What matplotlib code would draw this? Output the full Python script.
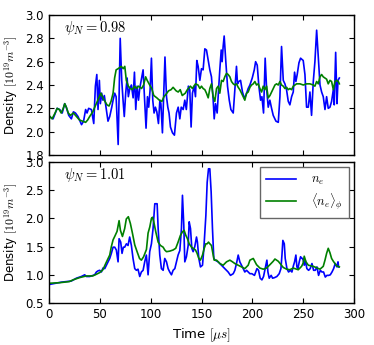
import numpy as np
import matplotlib
matplotlib.use("Agg")
import matplotlib.pyplot as plt

# Density time traces
# top panel: psi_N = 0.98
t_top_ne = [0, 4, 8, 10.5, 13, 15.4, 17, 19.4, 22, 24, 26, 28.5, 32, 34, 36, 37.4, 39, 41.7, 44, 45.6,
            47, 48.2, 49.5, 50.5, 51.8, 53, 54.4, 56.4, 58, 59.7, 61.7, 63, 64.6, 66, 68, 70, 71.5, 72.8,
            74, 75.4, 76.8, 78, 79.4, 81, 82.7, 84, 85.3, 86.6, 88, 89.2, 91, 92.5, 94, 95.4, 96.8, 98,
            99.4, 100.7, 102, 103.3, 104.6, 106, 107.6, 109, 110, 111.5, 112.8, 114, 115.5, 116.8, 118,
            119.4, 121.4, 123.3, 125.3, 127, 128.6, 130, 131.9, 133.5, 135, 137, 138.4, 139.7, 141, 142.7,
            144, 145.3, 146.6, 148.3, 149.9, 151.5, 153.2, 154.8, 156.5, 158.1, 159.7, 161.4, 162.4,
            163.7, 165.3, 166.3, 167.9, 169.3, 170.2, 171.2, 172.2, 173.9, 175.5, 177.2, 178.8, 181.1,
            182.7, 184.3, 185.3, 186.6, 188.3, 190.2, 191.9, 193.5, 195.8, 197.5, 199.8, 201.8, 203.1,
            204.7, 206.3, 208, 209.3, 210.9, 212.5, 213.9, 215.5, 217.1, 218.8, 220.4, 223.1, 225.4,
            227, 228.6, 230.3, 231.9, 233.5, 235.2, 236.8, 238.5, 240.1, 241.4, 242.7, 244, 245.7,
            247.3, 249.9, 251.6, 253.2, 254.9, 256.5, 258.1, 259.8, 261.4, 263.1, 264.7, 266.4, 268,
            269.6, 271.3, 272.9, 274.5, 276.2, 277.8, 279.5, 280.4, 281.8, 283.1, 284.1, 285.4]
ne_top = [2.13, 2.11, 2.20, 2.19, 2.16, 2.24, 2.21, 2.14, 2.11, 2.17, 2.16, 2.13, 2.06, 2.09, 2.19, 2.16,
          2.20, 2.19, 2.07, 2.39, 2.49, 2.19, 2.44, 2.24, 2.33, 2.27, 2.31, 2.19, 2.09, 2.13, 2.21, 2.27,
          2.33, 2.30, 1.89, 2.80, 2.44, 2.27, 2.13, 2.33, 2.46, 2.30, 2.37, 2.40, 2.29, 2.51, 2.19, 2.39,
          2.27, 2.37, 2.46, 2.53, 2.27, 2.03, 2.30, 2.21, 2.36, 2.63, 2.27, 2.16, 2.21, 2.17, 2.07, 2.27,
          2.24, 1.99, 2.33, 2.64, 2.30, 2.21, 2.16, 2.04, 1.99, 1.97, 2.16, 2.21, 2.11, 2.21, 2.19, 2.27,
          2.19, 2.39, 2.36, 2.04, 2.33, 2.39, 2.30, 2.61, 2.56, 2.44, 2.54, 2.53, 2.71, 2.70, 2.61, 2.53,
          2.47, 2.27, 2.11, 2.24, 2.16, 2.30, 2.53, 2.70, 2.60, 2.73, 2.82, 2.59, 2.39, 2.27, 2.19, 2.16,
          2.36, 2.56, 2.41, 2.43, 2.44, 2.34, 2.29, 2.31, 2.37, 2.40, 2.46, 2.53, 2.60, 2.57, 2.39, 2.27,
          2.30, 2.16, 2.63, 2.37, 2.21, 2.27, 2.20, 2.14, 2.09, 2.08, 2.30, 2.73, 2.44, 2.41, 2.36, 2.26,
          2.23, 2.30, 2.34, 2.51, 2.43, 2.49, 2.59, 2.63, 2.61, 2.49, 2.21, 2.21, 2.34, 2.14, 2.43, 2.60,
          2.87, 2.64, 2.40, 2.34, 2.30, 2.19, 2.30, 2.20, 2.21, 2.26, 2.36, 2.23, 2.68, 2.24, 2.44, 2.46]

t_top_avg = [0, 3, 6, 8, 10, 12, 14, 15.5, 17, 19, 21, 24, 27, 30, 33, 36, 38, 40, 43, 46, 49, 51, 53,
             55, 57, 59, 61, 63, 64.5, 66, 68, 71, 73, 74.5, 76, 78, 80, 82, 84, 86, 88, 91, 93, 95,
             96.5, 99, 101, 103, 106, 108.5, 111, 113, 115, 117.5, 120, 122, 125, 127, 129, 131, 134,
             136, 139, 141, 144, 146.5, 148.3, 149.9, 151.5, 153.2, 154.8, 156.5, 158.1, 159.7, 161.4,
             163, 164.7, 166.3, 167.9, 169.6, 171.2, 172.8, 174.5, 176.1, 177.8, 179.4, 181.1, 182.7,
             184.3, 186, 187.6, 189.3, 190.9, 192.5, 194.2, 195.8, 197.5, 199.1, 200.8, 202.4, 204,
             205.7, 207.3, 209, 210.6, 212.2, 213.9, 215.5, 217.2, 218.8, 220.4, 222.1, 223.7, 225.4,
             227, 228.6, 230.3, 231.9, 233.6, 235.2, 236.8, 238.5, 240.1, 241.8, 243.4, 246.7, 250,
             253.2, 256.5, 259.8, 261.4, 263.1, 264.7, 266.4, 268, 269.6, 271.3, 272.9, 274.5, 276.2,
             277.8, 279.5, 281.1, 282.7, 284.4, 285.4]
avg_top = [2.14, 2.11, 2.16, 2.20, 2.19, 2.16, 2.20, 2.24, 2.21, 2.16, 2.14, 2.16, 2.13, 2.10, 2.09,
           2.08, 2.10, 2.13, 2.17, 2.23, 2.29, 2.33, 2.29, 2.26, 2.23, 2.22, 2.26, 2.33, 2.46, 2.53,
           2.54, 2.56, 2.54, 2.56, 2.44, 2.39, 2.37, 2.36, 2.39, 2.37, 2.39, 2.37, 2.40, 2.47, 2.44,
           2.40, 2.37, 2.31, 2.29, 2.27, 2.26, 2.30, 2.32, 2.35, 2.36, 2.38, 2.35, 2.34, 2.36, 2.31,
           2.33, 2.36, 2.39, 2.37, 2.41, 2.40, 2.37, 2.39, 2.37, 2.36, 2.33, 2.29, 2.37, 2.41, 2.30,
           2.26, 2.37, 2.39, 2.33, 2.44, 2.43, 2.47, 2.50, 2.49, 2.47, 2.43, 2.41, 2.40, 2.41, 2.38,
           2.36, 2.33, 2.30, 2.27, 2.33, 2.34, 2.38, 2.40, 2.41, 2.43, 2.40, 2.41, 2.37, 2.34, 2.39,
           2.36, 2.39, 2.29, 2.31, 2.34, 2.37, 2.40, 2.41, 2.40, 2.43, 2.40, 2.39, 2.37, 2.38, 2.36,
           2.37, 2.36, 2.39, 2.40, 2.41, 2.41, 2.40, 2.41, 2.41, 2.40, 2.39, 2.43, 2.41, 2.47, 2.49,
           2.47, 2.46, 2.45, 2.41, 2.44, 2.43, 2.36, 2.43, 2.44, 2.43, 2.41]

# bottom panel: psi_N = 1.01
t_bot_ne = [0, 0.7, 12.1, 22, 26.9, 31.8, 35.1, 36.7, 40, 44.9, 46.6, 48.2, 49.8, 51.5, 53.1, 54.8,
            56.4, 58, 59.7, 61.3, 63, 64.6, 66.2, 67.9, 68.9, 70.5, 71.8, 73.1, 74.4, 76.1, 77.7, 79.3,
            81, 82.6, 84.3, 85.9, 87.5, 89.2, 90.8, 92.5, 94.1, 95.7, 97.4, 99, 100.7, 102.3, 104,
            106.3, 107.3, 108.9, 110.5, 112.2, 113.8, 115.5, 117.1, 118.7, 120.4, 122, 123.7, 125.3,
            126.9, 128.6, 130.2, 131.2, 132.5, 133.5, 135.1, 136.8, 137.8, 139.1, 140.4, 141.7, 143.3,
            145, 145.9, 147.3, 148.9, 150.9, 152.2, 154.2, 155.5, 156.8, 158.1, 159.4, 160.7, 162,
            163.3, 166.3, 169.5, 172.8, 176.1, 178.4, 181.1, 182.7, 184.3, 186, 187.6, 189.3, 190.9,
            192.5, 194.2, 195.8, 197.5, 199.4, 202, 204.4, 206, 207.6, 209.3, 210.9, 212.5, 214.2,
            215.2, 216.5, 218.4, 219.8, 221.7, 224, 226.3, 228, 229, 229.9, 231.3, 232.2, 233.9, 235.5,
            237.2, 238.8, 240.4, 241.4, 242.7, 243.7, 244.7, 246, 247.3, 248.6, 249.6, 250.9, 251.9,
            253.5, 255.2, 256.8, 258.5, 260.1, 261.7, 263.4, 265, 266.7, 268.3, 269.9, 271.6, 273.2,
            274.9, 276.5, 278.2, 279.8, 281.4, 283.1, 284.1, 284.7]
ne_bot = [0.84, 0.83, 0.87, 0.89, 0.94, 0.97, 1.00, 0.97, 0.97, 1.00, 1.05, 1.07, 1.08, 1.05, 1.12,
          1.11, 1.17, 1.23, 1.29, 1.38, 1.49, 1.49, 1.44, 1.23, 1.64, 1.58, 1.38, 1.49, 1.49, 1.55,
          1.52, 1.67, 1.52, 1.29, 1.11, 1.08, 1.10, 0.97, 1.05, 1.08, 1.23, 1.35, 1.00, 1.41, 1.55,
          1.82, 2.26, 2.26, 1.82, 1.35, 1.11, 1.08, 1.29, 1.23, 1.11, 1.05, 1.00, 1.08, 1.11, 1.23,
          1.35, 1.43, 1.82, 2.41, 1.88, 1.23, 1.32, 1.52, 1.94, 1.82, 1.47, 1.41, 1.50, 1.67, 1.58,
          1.29, 1.14, 1.17, 1.46, 2.05, 2.64, 2.88, 2.88, 2.47, 1.82, 1.29, 1.26, 1.23, 1.17, 1.11,
          1.05, 0.99, 1.02, 1.08, 1.20, 1.35, 1.23, 1.17, 1.11, 1.05, 1.08, 1.05, 1.02, 1.02, 0.99,
          1.11, 1.08, 0.94, 0.91, 0.97, 1.11, 1.26, 1.05, 0.94, 0.99, 0.94, 0.95, 0.97, 1.02, 1.11,
          1.35, 1.61, 1.55, 1.29, 1.11, 1.05, 1.08, 1.05, 1.17, 1.23, 1.35, 1.14, 1.11, 1.23, 1.32,
          1.29, 1.29, 1.17, 1.26, 1.11, 1.08, 1.11, 1.20, 1.08, 1.08, 1.14, 0.99, 1.08, 1.05, 1.05,
          0.96, 0.99, 0.99, 1.00, 1.05, 1.11, 1.20, 1.14, 1.23, 1.14]

t_bot_avg = [0, 10.5, 20, 23.6, 30, 36.7, 43, 46.6, 49.9, 53, 56, 59.7, 61.3, 63, 64.6, 66.9, 68.9,
             70.2, 72.2, 74.4, 76, 78, 80, 82, 84.3, 86.6, 89, 90.8, 93, 95.8, 97.4, 99.1, 100.7,
             101.7, 103, 105, 107.3, 109.6, 112.2, 113.8, 115.5, 118.7, 122, 124.6, 126.9, 129.2,
             131.2, 132.8, 134.5, 136.1, 137.8, 140.1, 141.7, 144, 145.6, 147.3, 148.9, 150.9, 152.6,
             154.2, 155.5, 156.8, 158.1, 159.7, 161.4, 162.4, 164.7, 168, 171.2, 174.5, 177.8, 180.4,
             182.7, 186, 189.3, 192.5, 195.8, 197.5, 200.8, 204, 207.3, 210.6, 213.9, 217.2, 220.4,
             222.1, 225.4, 230.3, 233.6, 236.8, 240.1, 245, 248.3, 249.9, 250.9, 252.6, 254.9, 259.8,
             266.4, 269.6, 271.3, 272.9, 274.5, 276.2, 277.8, 279.5, 282.7, 285.4]
avg_bot = [0.85, 0.86, 0.88, 0.91, 0.95, 0.98, 0.98, 1.01, 1.04, 1.09, 1.21, 1.35, 1.50, 1.62, 1.68,
           1.77, 1.96, 1.79, 1.68, 1.82, 1.99, 2.03, 1.91, 1.74, 1.53, 1.41, 1.29, 1.26, 1.32, 1.45,
           1.74, 1.85, 2.00, 2.02, 1.94, 1.76, 1.58, 1.52, 1.49, 1.44, 1.41, 1.42, 1.44, 1.47, 1.58,
           1.70, 1.76, 1.79, 1.70, 1.64, 1.55, 1.49, 1.47, 1.44, 1.38, 1.29, 1.26, 1.35, 1.47, 1.55,
           1.55, 1.58, 1.55, 1.52, 1.35, 1.26, 1.26, 1.20, 1.17, 1.23, 1.26, 1.23, 1.20, 1.17, 1.14,
           1.11, 1.17, 1.26, 1.29, 1.18, 1.12, 1.10, 1.12, 1.18, 1.24, 1.28, 1.24, 1.13, 1.10, 1.09,
           1.12, 1.09, 1.15, 1.21, 1.33, 1.23, 1.17, 1.15, 1.10, 1.15, 1.26, 1.38, 1.47, 1.39, 1.29,
           1.24, 1.16, 1.14]

plt.rcParams["mathtext.fontset"] = "cm"
plt.rcParams["font.size"] = 8.5
plt.rcParams["xtick.direction"] = "in"
plt.rcParams["ytick.direction"] = "in"
plt.rcParams["xtick.top"] = True
plt.rcParams["ytick.right"] = True

fig = plt.figure(figsize=(3.74, 3.45), dpi=100)
ax1 = fig.add_axes([0.131, 0.5507, 0.816, 0.4058])
ax2 = fig.add_axes([0.131, 0.1217, 0.816, 0.4087])

# top panel
ax1.plot(t_top_ne, ne_top, color="b", lw=1.2)
ax1.plot(t_top_avg, avg_top, color="g", lw=1.2)
ax1.set_xlim(0, 300)
ax1.set_ylim(1.8, 3.0)
ax1.set_yticks(np.arange(1.8, 3.01, 0.2))
ax1.set_xticks(np.arange(0, 301, 50))
ax1.tick_params(labelbottom=False)
ax1.set_ylabel("Density $[10^{19} m^{-3}]$")
ax1.text(0.05, 0.975, r"$\psi_N = 0.98$", transform=ax1.transAxes,
         fontsize=10.5, va="top", ha="left")

# bottom panel
ax2.plot(t_bot_ne, ne_bot, color="b", lw=1.2, label="$n_e$")
ax2.plot(t_bot_avg, avg_bot, color="g", lw=1.2, label=r"$\langle n_e \rangle_\phi$")
ax2.set_xlim(0, 300)
ax2.set_ylim(0.5, 3.0)
ax2.set_yticks(np.arange(0.5, 3.01, 0.5))
ax2.set_xticks(np.arange(0, 301, 50))
ax2.set_xlabel(r"Time $[\mu s]$", fontsize=9.5)
ax2.set_ylabel("Density $[10^{19} m^{-3}]$")
ax2.text(0.05, 0.975, r"$\psi_N = 1.01$", transform=ax2.transAxes,
         fontsize=10.5, va="top", ha="left")
leg = ax2.legend(loc="upper right", fontsize=9, fancybox=False, framealpha=1,
                 handlelength=2.4, labelspacing=0.3, handletextpad=1.2,
                 borderpad=0.5, borderaxespad=0.4)
leg.get_frame().set_edgecolor("0.4")

for ax in (ax1, ax2):
    for s in ax.spines.values():
        s.set_linewidth(1.0)

plt.savefig("out.png", dpi=100)
